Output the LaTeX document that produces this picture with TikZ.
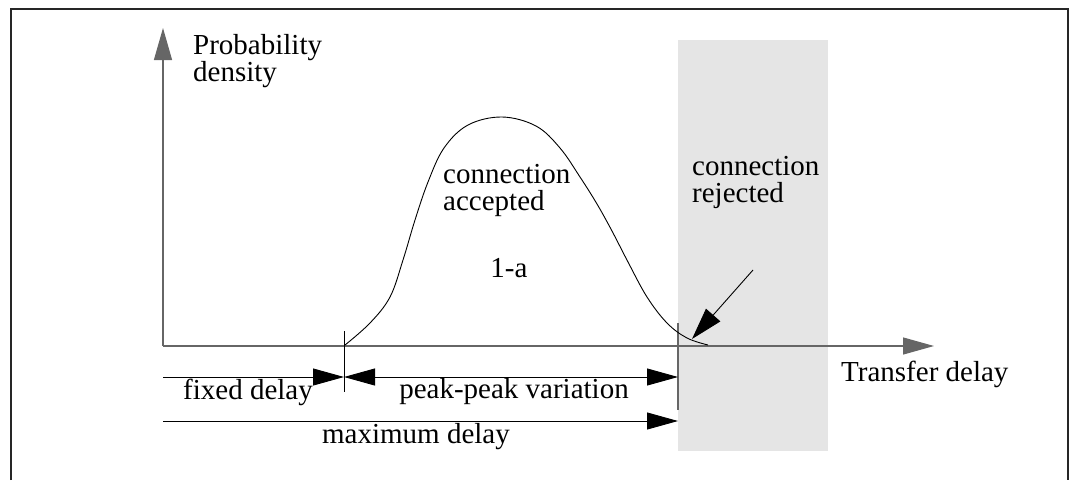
\documentclass[tikz,border=0pt]{standalone}
\usepackage{fontspec}
\setmainfont{Liberation Serif}
\usetikzlibrary{arrows.meta}
\begin{document}
\begin{tikzpicture}[x=1pt,y=-1pt,
  lbl/.style={inner sep=0pt,font=\fontsize{29}{27}\selectfont,align=left},
  axis/.style={draw=black!60,line width=1.2pt},
  dim/.style={draw=black,line width=0.9pt},
  tipL/.style={-{Triangle[length=31pt,width=17pt]}},
  tipB/.style={{Triangle[length=31pt,width=17pt]}-{Triangle[length=31pt,width=17pt]}},
  tickline/.style={draw=black,line width=0.9pt}]
\useasboundingbox (0,0) rectangle (1070,480);
% frame
\draw[line width=2pt,draw=black!85] (11,480) -- (11,9) -- (1068,9) -- (1068,480);
% rejected region
\fill[black!10] (678,40) rectangle (828,451);
% coordinates
\coordinate (O) at (163,346);
\coordinate (Ytop) at (163,28);
\coordinate (Xend) at (934,346);
\coordinate (A) at (344,377);
\coordinate (B) at (678,377);
\coordinate (L1) at (163,377);
\coordinate (L2) at (163,421);
\coordinate (M) at (678,421);
\coordinate (T1a) at (344,331);
\coordinate (T1b) at (344,392);
\coordinate (T2a) at (678,323);
\coordinate (T2b) at (678,410);
\coordinate (P1) at (753,270);
\coordinate (P2) at (692,339);
% axes
\draw[axis,-{Triangle[length=32pt,width=18pt]}] (O) -- (Ytop);
\draw[axis,-{Triangle[length=31pt,width=17pt]}] (O) -- (Xend);
% ticks
\draw[tickline] (T1a) -- (T1b);
\draw[draw=black!60,line width=1.2pt] (T2a) -- (T2b);
% dimension lines
\draw[dim,tipL] (L1) -- (A);
\draw[dim,tipB] (A) -- (B);
\draw[dim,tipL] (L2) -- (M);
% curve
\draw[line width=0.9pt] plot[smooth,tension=0.6] coordinates {(345,345) (370,323) (390,297) (403,260) (415,220) (428,182) (444,148) (468,125) (502,117) (536,126) (560,148) (580,177) (597,204) (612,231) (628,262) (647,297) (667,323) (687,338) (708,345)};
% pointer arrow
\draw[line width=0.9pt,-{Triangle[length=32pt,width=19pt]}] (P1) -- (P2);
% labels
\node[lbl,anchor=base west] (prob) at (193,81) {Probability\\density};
\node[lbl,anchor=base west] (acc) at (443,210) {connection\\accepted};
\node[lbl,anchor=base] (onea) at (509,277) {1-a};
\node[lbl,anchor=base west] (rej) at (692,202) {connection\\rejected};
\node[lbl,anchor=base west] (fixed) at (183,399) {fixed delay};
\node[lbl,anchor=base] (pp) at (514,398) {peak-peak variation};
\node[lbl,anchor=base] (maxd) at (416,443) {maximum delay};
\node[lbl,anchor=base west] (td) at (841,381) {Transfer delay};
\end{tikzpicture}
\end{document}
